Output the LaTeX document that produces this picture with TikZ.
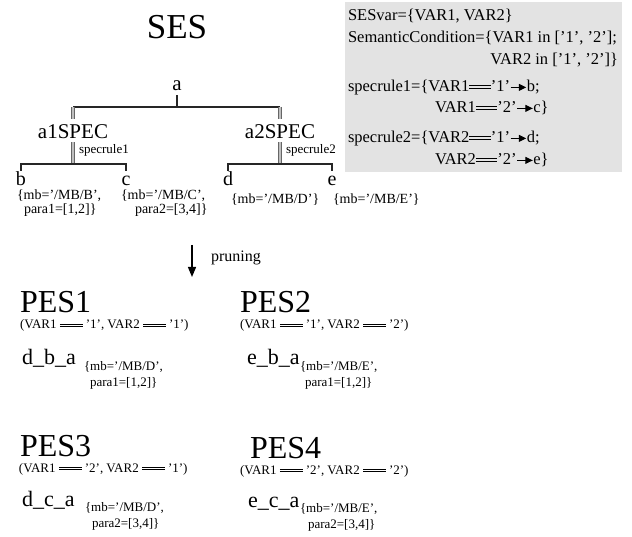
\documentclass[tikz,border=0pt]{standalone}
\usepackage{fontspec}
\setmainfont{Liberation Serif}
\usetikzlibrary{arrows.meta,calc}

% long "==" drawn as two rules of a given width
\newcommand\dbleq[1]{\raisebox{0.2em}{\vbox{\hrule width #1 height 0.06em\kern0.1em\hrule width #1 height 0.06em}}}
% small rule arrow used in the rule definitions
\newcommand\rulearr{\tikz[baseline=-0.28em]\draw[line width=0.06em,-{Triangle[length=0.45em,width=0.42em]}] (0,0)--(0.95em,0);}

\begin{document}
\begin{tikzpicture}[x=1pt,y=-1pt,
  every node/.style={inner sep=0pt,outer sep=0pt},
  title/.style={font=\fontsize{35}{35}\selectfont},
  pestitle/.style={font=\fontsize{32}{32}\selectfont,anchor=base west},
  lbl/.style={font=\fontsize{21}{21}\selectfont},
  leaf/.style={font=\fontsize{20}{20}\selectfont,anchor=base},
  ann/.style={font=\fontsize{14}{14}\selectfont,align=left,anchor=north west},
  rulelbl/.style={font=\fontsize{13}{13}\selectfont,anchor=west},
  boxtxt/.style={font=\fontsize{16.5}{16.5}\selectfont,anchor=base west},
  cond/.style={font=\fontsize{13}{13}\selectfont,anchor=base west},
  path/.style={font=\fontsize{22}{22}\selectfont,anchor=base west},
  sub/.style={font=\fontsize{13}{16}\selectfont,align=left,anchor=north west},
  tree/.style={draw=black!85,line width=1.3pt},
  dbl/.style={draw=black!60,line width=0.9pt,double=white!75!black,double distance=1.4pt},
  prune/.style={draw=black,line width=1.2pt,-{Triangle[length=10pt,width=8pt]}}
]
\useasboundingbox (0,0) rectangle (632,537);
\fill[white] (0,0) rectangle (632,537);

% ---- variable and rule definitions ----
\fill[black!11] (345,2) rectangle (622,172);
\node[boxtxt] (v1) at (348,21) {SESvar=\{VAR1, VAR2\}};
\node[boxtxt] (v2) at (348,43) {SemanticCondition=\{VAR1 in ['1', '2'];};
\node[boxtxt,anchor=base east] (v3) at (618,65) {VAR2 in ['1', '2']\}};
\node[boxtxt] (r1) at (348,92) {specrule1=\{VAR1\dbleq{1.3em}'1'\rulearr b;};
\node[boxtxt] (r2) at (435,113) {VAR1\dbleq{1.3em}'2'\rulearr c\}};
\node[boxtxt] (r3) at (348,143) {specrule2=\{VAR2\dbleq{1.3em}'1'\rulearr d;};
\node[boxtxt] (r4) at (435,165) {VAR2\dbleq{1.3em}'2'\rulearr e\}};

% ---- SES tree ----
\node[title] (ses) at (177,27) {SES};
\node[lbl] (a) at (177,86) {a};
\node[lbl] (s1) at (73,132) {a1SPEC};
\node[lbl] (s2) at (280,132) {a2SPEC};
\coordinate (topbar) at (0,107);
\draw[tree] (s1 |- topbar) -- (s2 |- topbar);
\draw[tree] ($(a.south)+(0,4)$) -- (a |- topbar);
\draw[dbl] (s1 |- topbar) -- ($(s1.north)+(0,-6)$);
\draw[dbl] (s2 |- topbar) -- ($(s2.north)+(0,-6)$);

\coordinate (lowbar) at (0,164);
\draw[dbl] ($(s1.south)+(0,3)$) -- (s1 |- lowbar);
\draw[dbl] ($(s2.south)+(0,3)$) -- (s2 |- lowbar);
\node[rulelbl] (sr1) at (79,150) {specrule1};
\node[rulelbl] (sr2) at (286,150) {specrule2};

\node[leaf] (b) at (21,186) {b};
\node[leaf] (c) at (126,186) {c};
\node[leaf] (d) at (228,186) {d};
\node[leaf] (e) at (332,186) {e};
\draw[tree] ($(b.base)+(0,-15)$) -- (b |- lowbar) -- (c |- lowbar) -- ($(c.base)+(0,-15)$);
\draw[tree] ($(d.base)+(0,-15)$) -- (d |- lowbar) -- (e |- lowbar) -- ($(e.base)+(0,-15)$);

\node[ann] (bn) at (17,190) {\{mb='/MB/B',\\\hspace*{7pt}para1=[1,2]\}};
\node[ann] (cn) at (121,190) {\{mb='/MB/C',\\\hspace*{14pt}para2=[3,4]\}};
\node[ann] (dn) at (231,194) {\{mb='/MB/D'\}};
\node[ann] (en) at (333,194) {\{mb='/MB/E'\}};

% ---- pruning step ----
\coordinate (pr0) at (192,245);
\coordinate (pr1) at (192,277);
\draw[prune] (pr0) -- (pr1);
\node[font=\fontsize{16}{16}\selectfont,anchor=west] (prl) at (211,258) {pruning};

% ---- pruned execution structures ----
\node[pestitle] (p1) at (20,313) {PES1};
\node[cond] (c1) at (20,329) {(VAR1 \dbleq{1.75em} '1', VAR2 \dbleq{1.75em} '1')};
\node[path] (t1) at (22,365) {d\_b\_a};
\node[sub] (u1) at (84,361) {\{mb='/MB/D',\\\hspace*{6pt}para1=[1,2]\}};

\node[pestitle] (p2) at (240,313) {PES2};
\node[cond] (c2) at (240,329) {(VAR1 \dbleq{1.75em} '1', VAR2 \dbleq{1.75em} '2')};
\node[path] (t2) at (247,365) {e\_b\_a};
\node[sub] (u2) at (300,361) {\{mb='/MB/E',\\\hspace*{5pt}para1=[1,2]\}};

\node[pestitle] (p3) at (20,456) {PES3};
\node[cond] (c3) at (19,472) {(VAR1 \dbleq{1.75em} '2', VAR2 \dbleq{1.75em} '1')};
\node[path] (t3) at (22,506) {d\_c\_a};
\node[sub] (u3) at (85,502) {\{mb='/MB/D',\\\hspace*{7pt}para2=[3,4]\}};

\node[pestitle] (p4) at (250,458) {PES4};
\node[cond] (c4) at (240,474) {(VAR1 \dbleq{1.75em} '2', VAR2 \dbleq{1.75em} '2')};
\node[path] (t4) at (248,507) {e\_c\_a};
\node[sub] (u4) at (300,503) {\{mb='/MB/E',\\\hspace*{8pt}para2=[3,4]\}};
\end{tikzpicture}
\end{document}
